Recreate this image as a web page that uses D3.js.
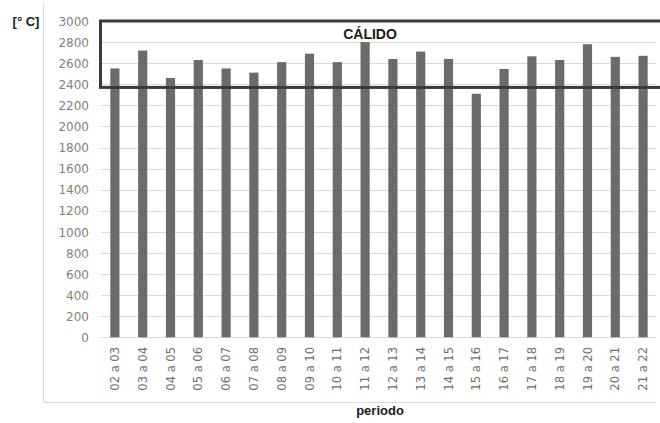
<!DOCTYPE html>
<html><head><meta charset="utf-8">
<script src="https://cdn.jsdelivr.net/npm/d3@7"></script>
<style>body{margin:0;background:#fff}svg{display:block}</style>
</head><body><svg id="c" width="660" height="423"></svg>
<script>
const categories = ["02 a 03","03 a 04","04 a 05","05 a 06","06 a 07","07 a 08","08 a 09","09 a 10","10 a 11","11 a 12","12 a 13","13 a 14","14 a 15","15 a 16","16 a 17","17 a 18","18 a 19","19 a 20","20 a 21","21 a 22"];
const values = [2550,2720,2460,2630,2550,2510,2610,2690,2610,2800,2640,2710,2640,2310,2545,2665,2630,2780,2660,2670];
const yTicks = [0,200,400,600,800,1000,1200,1400,1600,1800,2000,2200,2400,2600,2800,3000];
const zoneLabel = "CÁLIDO";
const zoneRange = [2370, 3000];
const yUnit = "[° C]";
const xTitle = "periodo";

const svg = d3.select("#c");
const x = d3.scaleBand().domain(categories).range([101, 657]).paddingInner(0.67).paddingOuter(0.335);
const y = d3.scaleLinear().domain([0, 3000]).range([337.3, 21]);

// outer chart frame (left & bottom)
svg.append("line").attr("x1",43.5).attr("x2",43.5).attr("y1",4).attr("y2",402.5).attr("stroke","#d9d9d9");
svg.append("line").attr("x1",43.5).attr("x2",656).attr("y1",402.5).attr("y2",402.5).attr("stroke","#d9d9d9");

// gridlines
svg.append("g").selectAll("line").data(yTicks).join("line")
  .attr("x1",101).attr("x2",656)
  .attr("y1",d=>Math.round(y(d))+0.5).attr("y2",d=>Math.round(y(d))+0.5)
  .attr("stroke","#d9d9d9").attr("stroke-width",1);

// y axis labels
const yAxis = d3.axisLeft(y).tickValues(yTicks).tickSize(0).tickPadding(0).tickFormat(d3.format("d"));
const ga = svg.append("g").attr("transform","translate(89,0)").call(yAxis);
ga.select(".domain").remove();
ga.selectAll("text").attr("font-family","DejaVu Sans, sans-serif").attr("font-size",12).attr("fill","#7f7f7f").attr("dy","0.35em");

// bars
svg.append("g").selectAll("rect").data(values).join("rect")
  .attr("x",(d,i)=>x(categories[i]))
  .attr("width",x.bandwidth())
  .attr("y",d=>y(d)).attr("height",d=>y(0)-y(d))
  .attr("fill","#6b6b6b");

// x labels
const xAxis = d3.axisBottom(x).tickSize(0).tickPadding(0);
const gx = svg.append("g").attr("transform","translate(0,347)").call(xAxis);
gx.select(".domain").remove();
gx.selectAll("text").attr("font-family","DejaVu Sans, sans-serif").attr("font-size",11.5).attr("fill","#6f6f6f")
  .attr("transform","rotate(-90)").attr("text-anchor","end").attr("x",0).attr("y",0).attr("dx",0).attr("dy","0.35em");

// zone box
svg.append("rect").attr("x",x.range()[0]-0.5).attr("y",y(zoneRange[1])).attr("width",620).attr("height",y(zoneRange[0])-y(zoneRange[1]))
  .attr("fill","none").attr("stroke","#3a3a3a").attr("stroke-width",3);
svg.append("text").attr("x",370).attr("y",39).attr("text-anchor","middle")
  .attr("font-family","Liberation Sans Narrow, Liberation Sans, Arial, sans-serif").attr("font-weight","bold").attr("font-size",14).attr("fill","#1a1a1a").text(zoneLabel);

// titles
svg.append("text").attr("x",26).attr("y",26).attr("text-anchor","middle")
  .attr("font-family","Liberation Sans Narrow, Liberation Sans, Arial, sans-serif").attr("font-weight","bold").attr("font-size",13).attr("fill","#1a1a1a").text(yUnit);
svg.append("text").attr("x",380).attr("y",415).attr("text-anchor","middle")
  .attr("font-family","Liberation Sans Narrow, Liberation Sans, Arial, sans-serif").attr("font-weight","bold").attr("font-size",13).attr("fill","#1a1a1a").text(xTitle);
</script></body></html>
